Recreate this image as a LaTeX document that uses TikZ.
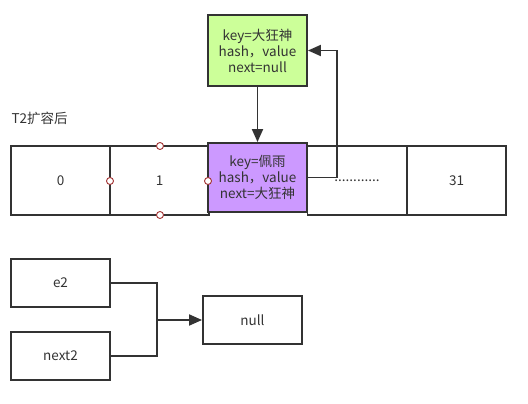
\documentclass[tikz,border=0pt]{standalone}
\usepackage{fontspec}
\setmainfont{Noto Sans CJK SC}
\usepackage{tikz}
\usetikzlibrary{arrows.meta,positioning}
\definecolor{linegray}{HTML}{333333}
\definecolor{textgray}{HTML}{333333}
\definecolor{headgreen}{HTML}{CCFF99}
\definecolor{entrypurple}{HTML}{CC99FF}
\definecolor{handlered}{HTML}{A33333}
\tikzstyle{cell}=[draw=linegray,line width=1.9pt,minimum width=99pt,minimum height=69pt,inner sep=0pt,text=textgray,align=center,font=\fontsize{13.5}{16}\selectfont]
\tikzstyle{entry}=[cell,fill=entrypurple]
\tikzstyle{head}=[cell,fill=headgreen,minimum height=71pt]
\tikzstyle{ref}=[cell,minimum height=48pt]
\tikzstyle{handle}=[circle,draw=handlered,fill=white,line width=0.9pt,minimum size=7pt,inner sep=0pt]
\tikzstyle{arrow}=[draw=linegray,line width=1.9pt,-{Triangle[length=13pt,width=11pt]}]
\tikzstyle{link}=[draw=linegray,line width=1.9pt]
\newcommand{\dotrow}{............}

\begin{document}
\begin{tikzpicture}[x=1pt,y=-1pt]
    \useasboundingbox (0,0) rectangle (528,404);
    \foreach \pos/\name/\content in {{(60.5,180.5)/c0/0}, {(159.5,180.5)/c1/1}, {(357,180.5)/cdots/\dotrow}, {(456.5,180.5)/c31/31}}
        \node[cell] (\name) at \pos {\content};
    \node[entry] (peiyu) at (257.5,177.5) {key=佩雨\\hash，value\\next=大狂神};
    \node[head] (kuangshen) at (257.5,50.5) {key=大狂神\\hash，value\\next=null};
    \node[anchor=west,text=textgray,font=\fontsize{13.5}{16}\selectfont] (title) at (8,118) {T2扩容后};
    \foreach \pos/\name in {{(160,146)/h1}, {(160,215)/h2}, {(110,181)/h3}, {(208,181)/h4}}
        \node[handle] (\name) at \pos {};
    \path[arrow] (kuangshen) -- (peiyu);
    \path[arrow] (peiyu.east) -- ++(29,0) |- (kuangshen.east);
    \node[ref] (e2) at (60.5,283) {e2};
    \node[ref] (next2) at (60.5,356) {next2};
    \node[ref] (null) at (252.5,320) {null};
    \coordinate (join) at (157,320);
    \path[link] (e2.east) -| (join) |- (next2.east);
    \path[arrow] (join) -- (null);
\end{tikzpicture}
\end{document}
